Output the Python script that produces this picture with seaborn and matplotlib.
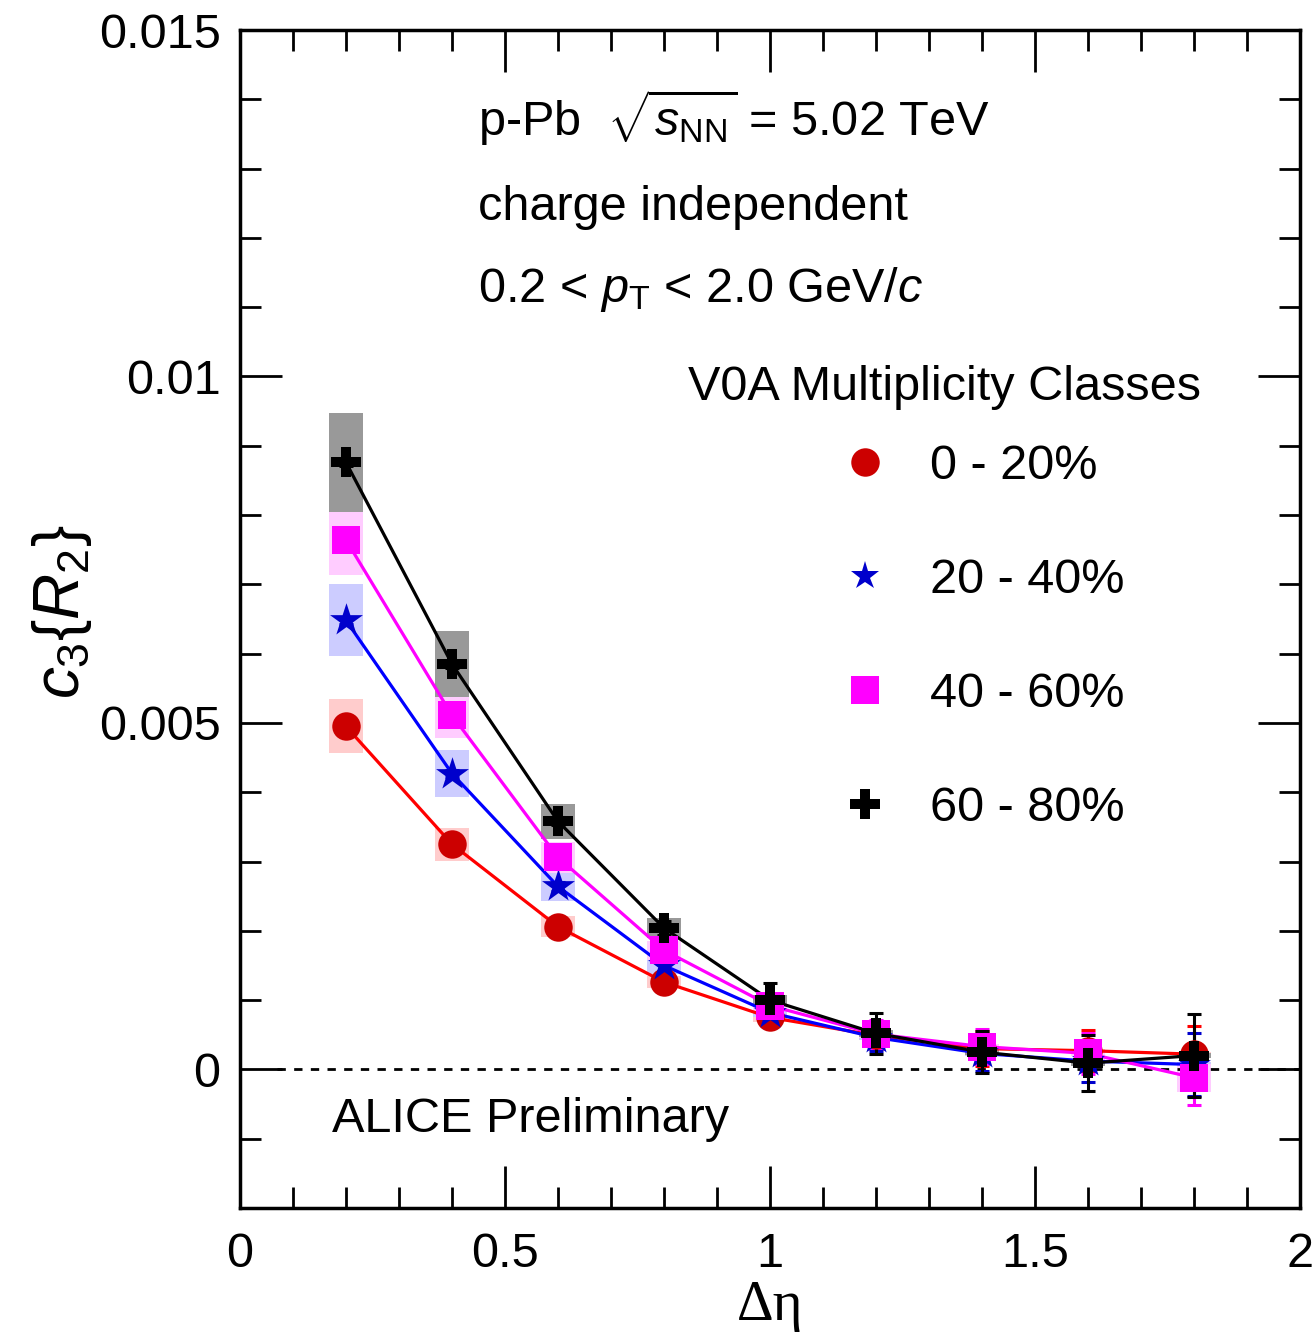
import numpy as np
import pandas as pd
import matplotlib
matplotlib.use("Agg")
import matplotlib.pyplot as plt
from matplotlib.lines import Line2D
from matplotlib.ticker import MultipleLocator, FuncFormatter
import seaborn as sns

# ---------------- data ----------------
deta = [0.2, 0.4, 0.6, 0.8, 1.0, 1.2, 1.4, 1.6, 1.8]
classes = ["0 - 20%", "20 - 40%", "40 - 60%", "60 - 80%"]

c3_0_20 = [0.00495, 0.00325, 0.00206, 0.00126, 0.00075, 0.00049, 0.00030, 0.00027, 0.00022]
c3_20_40 = [0.00648, 0.00427, 0.00264, 0.00150, 0.00082, 0.00046, 0.00023, 0.00012, 0.00007]
c3_40_60 = [0.00764, 0.00511, 0.00306, 0.00172, 0.00092, 0.00051, 0.00033, 0.00023, -0.00012]
c3_60_80 = [0.00876, 0.00585, 0.00358, 0.00204, 0.00100, 0.00052, 0.00025, 0.00009, 0.00020]

sys_0_20 = [0.00039, 0.00024, 0.00015, 0.00009, 0.00006, 0.00004, 0.00003, 0.00003, 0.00003]
sys_20_40 = [0.00052, 0.00034, 0.00021, 0.00012, 0.00007, 0.00004, 0.00003, 0.00003, 0.00003]
sys_40_60 = [0.00051, 0.00033, 0.00022, 0.00014, 0.00008, 0.00005, 0.00004, 0.00004, 0.00020]
sys_60_80 = [0.00071, 0.00047, 0.00025, 0.00015, 0.00008, 0.00005, 0.00004, 0.00004, 0.00004]

stat_0_20 = [0.00005, 0.00005, 0.00006, 0.00008, 0.00012, 0.00020, 0.00025, 0.00030, 0.00040]
stat_20_40 = [0.00005, 0.00005, 0.00006, 0.00008, 0.00012, 0.00020, 0.00025, 0.00030, 0.00045]
stat_40_60 = [0.00005, 0.00005, 0.00006, 0.00008, 0.00012, 0.00020, 0.00025, 0.00030, 0.00040]
stat_60_80 = [0.00005, 0.00005, 0.00006, 0.00010, 0.00025, 0.00030, 0.00030, 0.00040, 0.00060]

values = [c3_0_20, c3_20_40, c3_40_60, c3_60_80]
sys_err = [sys_0_20, sys_20_40, sys_40_60, sys_60_80]
stat_err = [stat_0_20, stat_20_40, stat_40_60, stat_60_80]

line_colors = ["#ff0000", "#0000ff", "#ff00ff", "#000000"]
marker_colors = ["#cc0000", "#0000cc", "#ff00ff", "#000000"]
box_colors = ["#ffcccc", "#ccccff", "#ffccff", "#999999"]
markers = ["o", "*", "s", "P"]
msizes = [420, 620, 400, 480]

df = pd.DataFrame({
    "deta": np.tile(deta, len(classes)),
    "c3": np.concatenate(values),
    "cls": np.repeat(classes, len(deta)),
})

# ---------------- style ----------------
sns.set_style("ticks")
plt.rcParams["font.family"] = ["Liberation Sans", "DejaVu Sans"]
plt.rcParams["mathtext.fontset"] = "custom"
plt.rcParams["mathtext.rm"] = "Liberation Sans"
plt.rcParams["mathtext.it"] = "Liberation Sans:italic"
plt.rcParams["mathtext.bf"] = "Liberation Sans:bold"
for k in ["text.color", "axes.labelcolor", "xtick.color", "ytick.color", "axes.edgecolor"]:
    plt.rcParams[k] = "black"

FS = 35

fig = plt.figure(figsize=(13.12, 13.36), dpi=100)
ax = fig.add_axes([240 / 1312, 1 - 1208 / 1336, 1060 / 1312, 1178 / 1336])

# systematic boxes
for i in range(len(classes)):
    y = np.array(values[i])
    s = np.array(sys_err[i])
    ax.bar(deta, 2 * s, bottom=y - s, width=0.066, color=box_colors[i],
           linewidth=0, zorder=1)

# lines
sns.lineplot(data=df, x="deta", y="c3", hue="cls", palette=dict(zip(classes, line_colors)),
             linewidth=2.3, legend=False, ax=ax, zorder=3, sort=False)

# stat error bars
for i in range(len(classes)):
    ax.errorbar(deta, values[i], yerr=stat_err[i], fmt="none",
                ecolor=line_colors[i] if i != 1 else marker_colors[i],
                elinewidth=2.2, capsize=5, capthick=2.2, zorder=4)

# markers
for i, c in enumerate(classes):
    sub = df[df["cls"] == c]
    sns.scatterplot(data=sub, x="deta", y="c3", marker=markers[i], color=marker_colors[i],
                    s=msizes[i], linewidth=0, ax=ax, zorder=5, legend=False)

# zero line
ax.hlines(0, 0.07, 2.0, colors="black", linestyles=(0, (3, 3)), linewidth=2.0, zorder=2)

# axes
ax.set_xlim(0, 2)
ax.set_ylim(-0.002, 0.015)
ax.xaxis.set_major_locator(MultipleLocator(0.5))
ax.xaxis.set_minor_locator(MultipleLocator(0.1))
ax.yaxis.set_major_locator(MultipleLocator(0.005))
ax.yaxis.set_minor_locator(MultipleLocator(0.001))
fmt = FuncFormatter(lambda v, p: "%g" % round(v, 6))
ax.xaxis.set_major_formatter(fmt)
ax.yaxis.set_major_formatter(fmt)
ax.tick_params(which="both", direction="in", top=True, right=True, width=2, color="black")
ax.tick_params(which="major", length=30, labelsize=FS, labelcolor="black")
ax.tick_params(which="minor", length=15)
ax.tick_params(axis="x", which="major", pad=17)
ax.tick_params(axis="y", which="major", pad=14)
for sp in ax.spines.values():
    sp.set_linewidth(2.5)
    sp.set_color("black")
    sp.set_visible(True)
ax.set_xlabel("")
ax.set_ylabel("")

# axis titles
fig.text(770 / 1312, 1 - 1306 / 1336, "Δη", family=["Liberation Serif", "DejaVu Serif"],
         fontsize=41, ha="center", va="center")
fig.text(62 / 1312, 1 - 612 / 1336, r"$c_3\{R_2\}$", fontsize=46, rotation=90,
         ha="center", va="center")

# annotations
fig.text(478 / 1312, 1 - 118 / 1336, r"p-Pb  $\sqrt{s_{\mathrm{NN}}}$ = 5.02 TeV",
         fontsize=FS, ha="left", va="center")
fig.text(478 / 1312, 1 - 207 / 1336, "charge independent", fontsize=FS, ha="left", va="center")
fig.text(478 / 1312, 1 - 290 / 1336, r"0.2 < $p_{\mathrm{T}}$ < 2.0 GeV/$c$",
         fontsize=FS, ha="left", va="center")
fig.text(332 / 1312, 1 - 1120 / 1336, "ALICE Preliminary", fontsize=FS, ha="left", va="center")
fig.text(688 / 1312, 1 - 387 / 1336, "V0A Multiplicity Classes", fontsize=FS, ha="left", va="center")

# legend
handles = [Line2D([], [], linestyle="none", marker=markers[i], color=marker_colors[i],
                  markersize=(msizes[i] ** 0.5) * (0.85 if i == 1 else 1.0), markeredgewidth=0)
           for i in range(len(classes))]
leg = ax.legend(handles, classes, loc="upper left", bbox_to_anchor=(841 / 1312, 1 - 444 / 1336),
                bbox_transform=fig.transFigure, frameon=False, fontsize=FS,
                handlelength=1.0, handletextpad=0.84, labelspacing=1.42,
                borderpad=0, borderaxespad=0)
for t in leg.get_texts():
    t.set_color("black")

fig.savefig("out.png", dpi=100)
